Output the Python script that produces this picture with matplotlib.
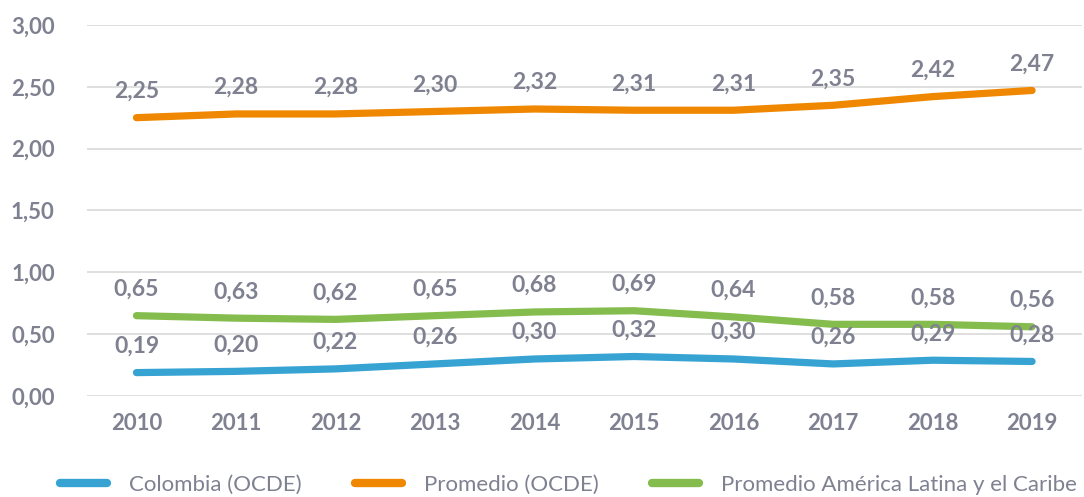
import matplotlib
matplotlib.use("Agg")
import matplotlib.pyplot as plt
import numpy as np

# datos
years = ["2010", "2011", "2012", "2013", "2014", "2015", "2016", "2017", "2018", "2019"]
colombia = [0.19, 0.20, 0.22, 0.26, 0.30, 0.32, 0.30, 0.26, 0.29, 0.28]
promedio_ocde = [2.25, 2.28, 2.28, 2.30, 2.32, 2.31, 2.31, 2.35, 2.42, 2.47]
promedio_alc = [0.65, 0.63, 0.62, 0.65, 0.68, 0.69, 0.64, 0.58, 0.58, 0.56]
y_ticks = [0.0, 0.5, 1.0, 1.5, 2.0, 2.5, 3.0]

series = [
    ("Colombia (OCDE)", colombia, "#36a3d3"),
    ("Promedio (OCDE)", promedio_ocde, "#f08700"),
    ("Promedio América Latina y el Caribe", promedio_alc, "#84bd4e"),
]

gray = "#7f8191"
plt.rcParams["font.family"] = ["Lato", "DejaVu Sans"]

fig = plt.figure(figsize=(10.84, 4.97), dpi=100)
ax = fig.add_axes([0.080, 0.203, 0.918, 0.747])

x = np.arange(len(years))
for name, vals, col in series:
    ax.plot(x, vals, color=col, lw=5.2, solid_capstyle="round",
            solid_joinstyle="round", label=name, zorder=3)
    for xi, v in zip(x, vals):
        ax.annotate(f"{v:.2f}".replace(".", ","), (xi, v), xytext=(0, 19),
                    textcoords="offset points", ha="center", va="center",
                    fontsize=16.5, fontweight="bold", color=gray, zorder=4)

ax.set_xlim(-0.5, len(years) - 0.5)
ax.set_ylim(0, 3.0)
ax.set_yticks(y_ticks)
ax.set_yticklabels([f"{t:.2f}".replace(".", ",") for t in y_ticks])
ax.set_xticks(x)
ax.set_xticklabels(years)
ax.tick_params(length=0, labelsize=16, labelcolor=gray)
ax.tick_params(axis="x", pad=12)
ax.tick_params(axis="y", pad=23)
for lab in ax.get_xticklabels() + ax.get_yticklabels():
    lab.set_fontweight("bold")
ax.grid(axis="y", color="#d9d9d9", lw=1.2)
ax.set_axisbelow(True)
for s in ax.spines.values():
    s.set_visible(False)

leg = fig.legend(loc="center", bbox_to_anchor=(0.5245, 0.024), ncol=3,
                 frameon=False, fontsize=16, handlelength=2.1,
                 columnspacing=2.4, handletextpad=1.0)
for t in leg.get_texts():
    t.set_color(gray)
for h in leg.get_lines():
    h.set_linewidth(6)
    h.set_solid_capstyle("round")

fig.savefig("out.png", dpi=100)
